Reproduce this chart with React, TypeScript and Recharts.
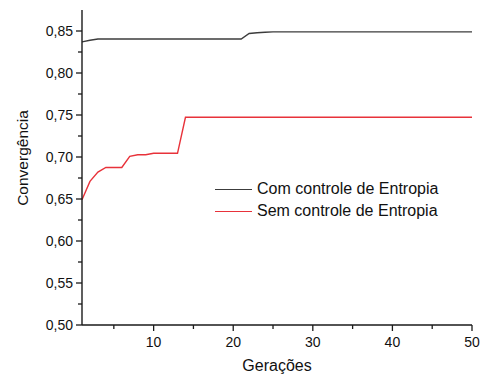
import { LineChart, Line, XAxis, YAxis, Legend } from "recharts"

const geracoes = Array.from({ length: 50 }, (_, i) => i + 1)

// Com controle de Entropia (gerações 1..50)
const comControle = [
  0.837, 0.839, 0.8405, 0.8405, 0.8405, 0.8405, 0.8405, 0.8405, 0.8405, 0.8405,
  0.8405, 0.8405, 0.8405, 0.8405, 0.8405, 0.8405, 0.8405, 0.8405, 0.8405, 0.8405,
  0.8405, 0.847, 0.848, 0.8485, 0.849, 0.849, 0.849, 0.849, 0.849, 0.849,
  0.849, 0.849, 0.849, 0.849, 0.849, 0.849, 0.849, 0.849, 0.849, 0.849,
  0.849, 0.849, 0.849, 0.849, 0.849, 0.849, 0.849, 0.849, 0.849, 0.849,
]

// Sem controle de Entropia (gerações 1..50)
const semControle = [
  0.649, 0.671, 0.682, 0.6875, 0.6875, 0.6875, 0.7008, 0.7027, 0.7027, 0.7044,
  0.7044, 0.7044, 0.7044, 0.7473, 0.7473, 0.7473, 0.7473, 0.7473, 0.7473, 0.7473,
  0.7473, 0.7473, 0.7473, 0.7473, 0.7473, 0.7473, 0.7473, 0.7473, 0.7473, 0.7473,
  0.7473, 0.7473, 0.7473, 0.7473, 0.7473, 0.7473, 0.7473, 0.7473, 0.7473, 0.7473,
  0.7473, 0.7473, 0.7473, 0.7473, 0.7473, 0.7473, 0.7473, 0.7473, 0.7473, 0.7473,
]

const xTicks = [5, 10, 15, 20, 25, 30, 35, 40, 45, 50]
const xLabels = [10, 20, 30, 40, 50]
const yTicks = [0.5, 0.525, 0.55, 0.575, 0.6, 0.625, 0.65, 0.675, 0.7, 0.725, 0.75, 0.775, 0.8, 0.825, 0.85]
const yLabels = [0.5, 0.55, 0.6, 0.65, 0.7, 0.75, 0.8, 0.85]

const data = geracoes.map((g, i) => ({ g, com: comControle[i], sem: semControle[i] }))

const FONT = "Liberation Sans, Arial, sans-serif"
const AXIS = "#1a1a1a"

function XTick({ x, y, payload }: any) {
  const major = xLabels.includes(payload.value)
  return (
    <g>
      <line x1={x} x2={x} y1={y} y2={y + (major ? 6 : 4)} stroke={AXIS} strokeWidth={1.3} />
      {major && (
        <text x={x} y={y + 17} textAnchor="middle" dominantBaseline="central" fontSize={14} fill="#111" fontFamily={FONT}>
          {payload.value}
        </text>
      )}
    </g>
  )
}

function YTick({ x, y, payload }: any) {
  const major = yLabels.some((v) => Math.abs(v - payload.value) < 1e-6)
  return (
    <g>
      <line x1={x} x2={x - (major ? 6 : 4)} y1={y} y2={y} stroke={AXIS} strokeWidth={1.3} />
      {major && (
        <text x={x - 9} y={y} textAnchor="end" dominantBaseline="central" fontSize={14} fill="#111" fontFamily={FONT}>
          {payload.value.toFixed(2).replace(".", ",")}
        </text>
      )}
    </g>
  )
}

function LegendBox({ payload }: any) {
  return (
    <div style={{ fontFamily: FONT, fontSize: 16, color: "#111" }}>
      {(payload || []).map((p: any) => (
        <div key={p.value} style={{ display: "flex", alignItems: "center", height: 22 }}>
          <span style={{ display: "inline-block", width: 37, height: 0, borderTop: `1.5px solid ${p.color}`, marginRight: 5 }} />
          <span>{p.value}</span>
        </div>
      ))}
    </div>
  )
}

export default function App() {
  return (
    <div style={{ position: "absolute", left: 0, top: 0, width: 482, height: 376, background: "#fff" }}>
      <LineChart width={482} height={376} data={data} margin={{ top: 10, right: 10, bottom: 0, left: 0 }}>
        <XAxis
          xAxisId="b"
          dataKey="g"
          type="number"
          domain={[1, 50]}
          ticks={xTicks}
          tick={<XTick />}
          tickLine={false}
          tickSize={0}
          tickMargin={0}
          height={51}
          interval={0}
          stroke={AXIS}
          axisLine={{ stroke: AXIS, strokeWidth: 1.4 }}
          allowDataOverflow
        />
        <XAxis xAxisId="t" orientation="top" dataKey="g" type="number" domain={[1, 50]} tick={false} tickLine={false} height={0} stroke={AXIS} axisLine={{ stroke: AXIS, strokeWidth: 1.4 }} />
        <YAxis
          yAxisId="l"
          type="number"
          domain={[0.5, 0.875]}
          ticks={yTicks}
          tick={<YTick />}
          tickLine={false}
          tickSize={0}
          tickMargin={0}
          width={82}
          interval={0}
          stroke={AXIS}
          axisLine={{ stroke: AXIS, strokeWidth: 1.4 }}
          allowDataOverflow
        />
        <YAxis yAxisId="r" orientation="right" type="number" domain={[0.5, 0.875]} tick={false} tickLine={false} width={0} stroke={AXIS} axisLine={{ stroke: AXIS, strokeWidth: 1.4 }} />
        <Legend
          layout="horizontal"
          verticalAlign="middle"
          align="center"
          content={<LegendBox />}
          wrapperStyle={{ left: 215, top: 178, width: "auto" }}
        />
        <Line xAxisId="b" yAxisId="l" type="linear" dataKey="com" name="Com controle de Entropia" stroke="#3c3c3c" strokeWidth={1.4} dot={false} isAnimationActive={false} />
        <Line xAxisId="b" yAxisId="l" type="linear" dataKey="sem" name="Sem controle de Entropia" stroke="#e8323a" strokeWidth={1.4} dot={false} isAnimationActive={false} />
        <text x={22} y={158} transform="rotate(-90 22 158)" textAnchor="middle" dominantBaseline="central" fontSize={15.5} fill="#111" fontFamily={FONT}>
          Convergência
        </text>
        <text x={277} y={365} textAnchor="middle" dominantBaseline="central" fontSize={16} fill="#111" fontFamily={FONT}>
          Gerações
        </text>
      </LineChart>
    </div>
  )
}
